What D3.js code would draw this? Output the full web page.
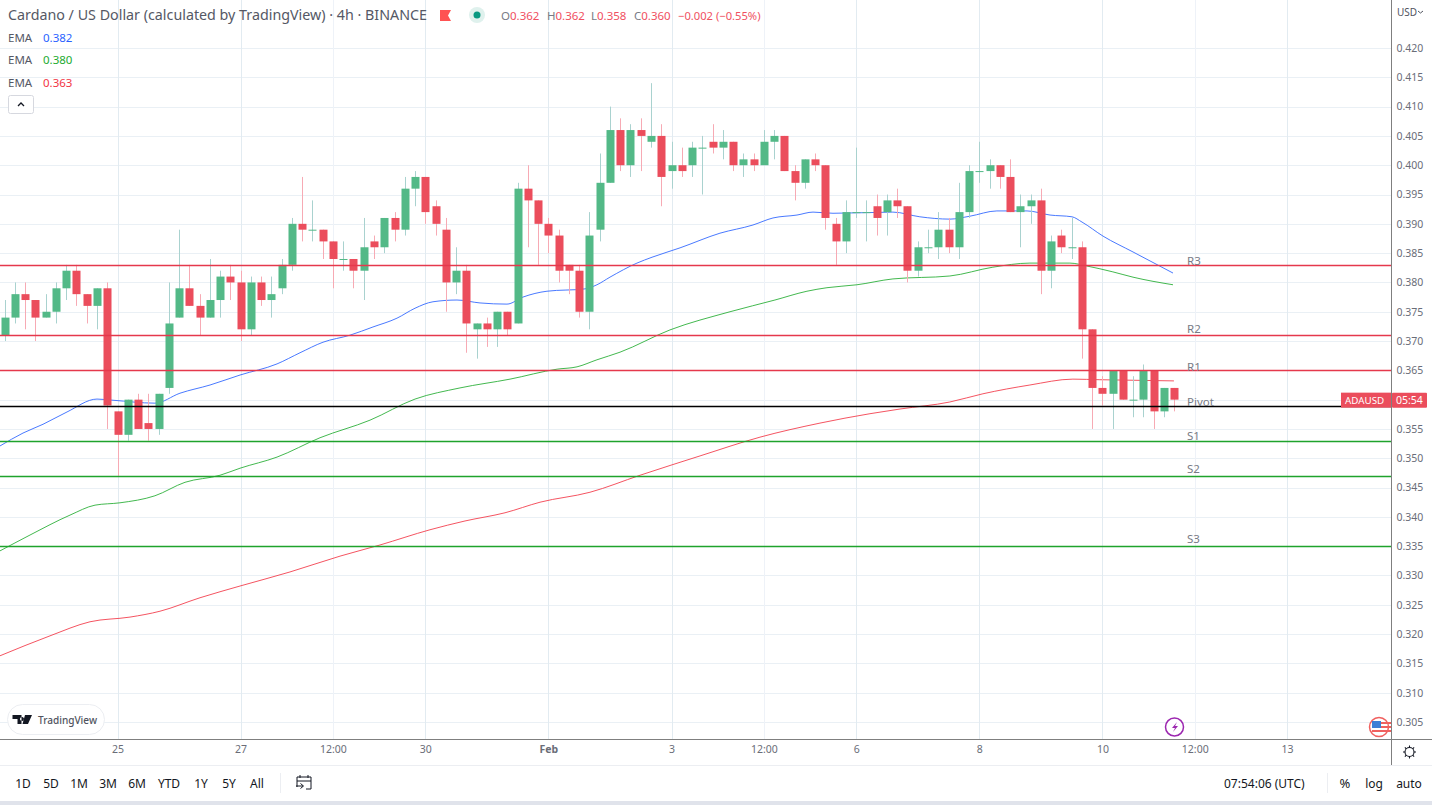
<!DOCTYPE html>
<html>
<head>
<meta charset="utf-8">
<script src="https://cdn.jsdelivr.net/npm/d3@7"></script>
<style>
  html, body { margin: 0; padding: 0; background: #fff; overflow: hidden; }
  svg { display: block; }
  text { font-family: "Noto Sans", sans-serif; }
  .tick text { font-size: 10.5px; fill: #6a6d78; }
</style>
</head>
<body>
<div id="chart"></div>
<script>
// Kerzen, 4h, index 0 = 25. Jan
const firstIndex = -11;
const opens = [
  .371,.374,.378,.377,.374,.375,.379,.382,.378,.376,.379,
  .358,.354,.360,.356,.355,.362,.374,.379,.376,.374,.377,.381,.380,.372,.380,.377,.379,.383,.390,.389,
  .389,.387,.384,.384,.382,.387,.386,.391,.389,.396,.398,.393,.389,.380,.382,.372,.373,.372,.375,.373,
  .396,.394,.390,.388,.383,.382,.375,.389,.397,.406,
  .400,.406,.404,.405,.399,.400,.400,.403,.404,.403,.404,.400,.401,.400,.404,.405,.399,.397,.401,.400,
  .390,.387,.392,.392,.393,.392,.394,.393,.382,
  .386,.386,.389,.386,.392,.399,.399,.400,.398,.392,.393,.394,.382,.388,.386,.386,.372,.362,.361,.365,.360,.360,.365,.358,.362
];
const highs = [
  .377,.380,.380,.377,.378,.380,.383,.383,.378,.379,.380,
  .358,.360,.361,.361,.361,.380,.389,.383,.378,.384,.382,.383,.382,.381,.381,.381,.384,.391,.398,.394,
  .389,.387,.387,.384,.391,.388,.391,.392,.398,.399,.398,.394,.391,.386,.383,.373,.374,.375,.375,.397,
  .400,.394,.391,.389,.383,.383,.392,.402,.410,.408,
  .407,.408,.414,.407,.404,.403,.404,.405,.407,.406,.404,.402,.402,.406,.406,.405,.400,.401,.402,.400,
  .391,.394,.403,.394,.395,.395,.396,.393,.387,
  .389,.392,.391,.397,.400,.404,.401,.400,.401,.395,.395,.396,.388,.389,.391,.387,.372,.364,.365,.365,.364,.366,.365,.362,.362
];
const lows = [
  .370,.373,.372,.370,.374,.373,.377,.376,.373,.372,.355,
  .347,.353,.355,.353,.354,.361,.374,.376,.371,.374,.374,.377,.370,.371,.376,.374,.378,.382,.387,.387,
  .384,.379,.382,.379,.377,.384,.385,.387,.388,.393,.390,.388,.375,.378,.368,.367,.369,.369,.371,.373,
  .386,.383,.385,.380,.378,.374,.372,.387,.397,.399,
  .398,.399,.403,.393,.396,.398,.398,.395,.402,.401,.399,.398,.399,.400,.401,.399,.394,.396,.399,.389,
  .383,.385,.391,.387,.388,.388,.391,.380,.381,
  .385,.384,.385,.384,.391,.397,.396,.396,.392,.386,.390,.378,.379,.385,.384,.367,.355,.359,.355,.360,.357,.357,.355,.357,.358
];
const closes = [
  .374,.378,.377,.374,.375,.379,.382,.378,.376,.379,.359,
  .354,.360,.355,.355,.361,.373,.379,.376,.374,.377,.381,.380,.372,.380,.377,.378,.383,.390,.389,.389,
  .387,.384,.384,.382,.386,.386,.391,.389,.396,.398,.392,.390,.380,.382,.373,.373,.372,.375,.372,.396,
  .394,.390,.388,.382,.382,.375,.388,.397,.406,.400,
  .406,.405,.405,.398,.400,.399,.403,.403,.403,.404,.400,.401,.400,.404,.405,.399,.397,.401,.400,.391,
  .387,.392,.392,.392,.391,.394,.393,.382,.386,
  .386,.389,.386,.392,.399,.399,.400,.398,.392,.393,.394,.382,.387,.386,.386,.372,.362,.361,.365,.360,.360,.365,.358,.362,.360
];

// EMA Linien: [kerzenindex, preis]
const emaBlue = [
  [-11.45,.3521],[-9.21,.3543],[-7.26,.3558],[-4.92,.3579],[-2,.3601],[-.44,.3599],[3.65,.3594],[6.09,.3611],[9.02,.3625],
  [11.94,.3642],[15.55,.3661],[17.79,.368],[20.03,.3698],[22.66,.371],[24.9,.3724],[27.24,.3739],[29,.3756],[30.75,.3767],
  [33.09,.377],[35.33,.3765],[37.96,.3763],[39.52,.3775],[41.86,.3785],[45.56,.3789],[46.73,.3796],[48,.3809],[50.63,.3833],
  [52.1,.3843],[54.83,.3859],[58.72,.3884],[61.94,.3898],[63.89,.391],[66.23,.3915],[67.79,.392],[69.74,.3918],[75.58,.392],
  [78.2,.3912],[81.13,.3908],[83.08,.3913],[85.71,.3922],[88.65,.3922],[90.89,.3915],[93.03,.3912],[94.01,.3903],[96.06,.3879],
  [98.98,.3852],[102.88,.3816]
];
const emaGreen = [
  [-11.45,.3342],[-8.53,.3369],[-4.63,.3403],[-2.19,.342],[.24,.3424],[3.65,.3436],[6.58,.3459],[9.99,.3471],[11.94,.3483],
  [15.55,.3502],[19.74,.3535],[24.61,.3565],[29,.3601],[33.38,.362],[38.26,.3635],[42.84,.3652],[44.79,.3656],[46.73,.3668],
  [48.98,.3681],[53.85,.3719],[59.7,.375],[64.08,.377],[67.2,.3785],[69.15,.3791],[72.07,.3796],[75.58,.3806],[81.13,.3811],
  [85.32,.3826],[88.93,.3833],[92.83,.3833],[94.49,.3828],[97.02,.3818],[98.98,.3809],[102.88,.3796]
];
const emaRed = [
  [-11.45,.3163],[-6.58,.3197],[-2.68,.3221],[1.22,.3229],[4.14,.3239],[8.04,.3262],[11.94,.3282],[16.81,.3306],[21.69,.3333],
  [25.58,.3352],[30.46,.3378],[33.87,.3393],[37.77,.3407],[41.18,.3425],[46.05,.3442],[50.93,.3471],[56.78,.3504],[62.62,.3536],
  [68.47,.356],[73.34,.3576],[76.27,.3584],[81.13,.3596],[84.35,.361],[88.93,.3625],[93.12,.3635],[95.75,.3634],[102.97,.3632]
];

// Pivot Level
const levelNames = ["R3", "R2", "R1", "Pivot", "S1", "S2", "S3"];
const levelValues = [.383, .371, .365, .359, .353, .347, .335];
const levelColors = ["#e5384c", "#e5384c", "#e5384c", "#000000", "#1fa32c", "#1fa32c", "#1fa32c"];
const levelLabelBaseline = [265, 333, 371, 405.5, 440, 473, 543];

// Achsen
const priceTicks = d3.range(0, 24).map(i => +(.305 + i * .005).toFixed(3));
const timeTickIndex = [0, 12, 21, 30, 42, 54, 63, 72, 84, 96, 105, 114];
const timeTickLabels = ["25", "27", "12:00", "30", "Feb", "3", "12:00", "6", "8", "10", "12:00", "13"];
const rangeButtons = ["1D", "5D", "1M", "3M", "6M", "YTD", "1Y", "5Y", "All"];
const rangeButtonX = [23, 51, 79, 108, 137, 169, 201, 229, 257];

const breite = 1432, hoehe = 805;
const plotRight = 1391.5, plotBottom = 739.5;

const x = d3.scaleLinear().domain([0, 114]).range([117.5, 1287.1]);
const y = d3.scaleLinear().domain([.305, .42]).range([722, 48]);

const candles = opens.map((o, k) => ({ i: firstIndex + k, o, h: highs[k], l: lows[k], c: closes[k] }));

const svg = d3.select("#chart").append("svg").attr("width", breite).attr("height", hoehe);
svg.append("rect").attr("width", breite).attr("height", hoehe).attr("fill", "#fff");

// Gitter
const gridG = svg.append("g");
gridG.selectAll(".gy").data(priceTicks).enter().append("line")
  .attr("x1", 0).attr("x2", plotRight)
  .attr("y1", d => Math.round(y(d)) + .5).attr("y2", d => Math.round(y(d)) + .5)
  .attr("stroke", "#eaf0f5");
gridG.selectAll(".gx").data(timeTickIndex).enter().append("line")
  .attr("x1", d => Math.round(x(d)) + .5).attr("x2", d => Math.round(x(d)) + .5)
  .attr("y1", 0).attr("y2", plotBottom)
  .attr("stroke", (d, k) => timeTickLabels[k] === "12:00" ? "#eef2f8" : "#e2ebf1");

// EMA
const line = d3.line().x(d => x(d[0])).y(d => y(d[1])).curve(d3.curveMonotoneX);
[[emaBlue, "#2962ff"], [emaGreen, "#22ab30"], [emaRed, "#f23645"]].forEach(([pts, col]) => {
  svg.append("path").datum(pts).attr("d", line)
    .attr("fill", "none").attr("stroke", col).attr("stroke-width", 1).attr("stroke-opacity", .85);
});

// Kerzen
const candleG = svg.append("g");
candleG.selectAll(".wick").data(candles).enter().append("line")
  .attr("x1", d => Math.round(x(d.i)) + .5).attr("x2", d => Math.round(x(d.i)) + .5)
  .attr("y1", d => y(d.h)).attr("y2", d => y(d.l))
  .attr("stroke", d => d.c >= d.o ? "#a9d2cf" : "#f7aab4");
candleG.selectAll(".body").data(candles).enter().append("rect")
  .attr("x", d => Math.round(x(d.i)) - 3.5)
  .attr("width", 8)
  .attr("y", d => Math.min(y(d.o), y(d.c)))
  .attr("height", d => Math.max(1, Math.abs(y(d.o) - y(d.c))))
  .attr("fill", d => d.c >= d.o ? "#53b987" : "#eb4d5c");

// Level Linien
const levelG = svg.append("g");
levelValues.forEach((v, k) => {
  const yy = Math.round(y(v)) + .5;
  levelG.append("line").attr("x1", 0).attr("x2", plotRight).attr("y1", yy).attr("y2", yy)
    .attr("stroke", levelColors[k]).attr("stroke-width", 1.4);
  levelG.append("text").attr("x", 1187).attr("y", levelLabelBaseline[k])
    .attr("font-size", 11.5).attr("fill", "#787b86").text(levelNames[k]);
});

// Rahmen
svg.append("rect").attr("x", plotRight).attr("width", breite - plotRight).attr("height", 765).attr("fill", "#fff");
svg.append("rect").attr("y", plotBottom).attr("width", breite).attr("height", hoehe - plotBottom).attr("fill", "#fff");

// Preisachse
const yAxis = d3.axisRight(y).tickValues(priceTicks).tickFormat(d3.format(".3f")).tickSize(0).tickPadding(5);
svg.append("g").attr("transform", `translate(${plotRight},0)`).call(yAxis)
  .call(g => g.select(".domain").remove());
svg.append("line").attr("x1", plotRight).attr("x2", plotRight).attr("y1", 0).attr("y2", 765).attr("stroke", "#7f7f7f");

// Zeitachse
const xAxis = d3.axisBottom(x).tickValues(timeTickIndex)
  .tickFormat((d, k) => timeTickLabels[k]).tickSize(0).tickPadding(6);
svg.append("g").attr("transform", `translate(0,${plotBottom})`).call(xAxis)
  .call(g => g.select(".domain").remove());
svg.selectAll(".tick text").filter(d => timeTickIndex.includes(d) && d === 42).attr("font-weight", 700);
svg.append("line").attr("x1", 0).attr("x2", breite).attr("y1", plotBottom).attr("y2", plotBottom).attr("stroke", "#7f7f7f");

// Kopfzeile
svg.append("text").attr("x", 8).attr("y", 20).attr("font-size", 14).attr("fill", "#555865")
  .attr("textLength", 419).attr("lengthAdjust", "spacingAndGlyphs")
  .text("Cardano / US Dollar (calculated by TradingView) · 4h · BINANCE");
svg.append("path").attr("d", "M440 10h11l-3 5.5 3 5.5h-11z").attr("fill", "#ff5252");
svg.append("circle").attr("cx", 477).attr("cy", 15).attr("r", 8).attr("fill", "#dff1ed");
svg.append("circle").attr("cx", 477).attr("cy", 15).attr("r", 3.5).attr("fill", "#089981");

const ohlcLabels = ["O", "H", "L", "C"];
const ohlcValues = ["0.362", "0.362", "0.358", "0.360"];
const ohlcX = [501, 547, 591, 634];
ohlcLabels.forEach((l, k) => {
  const t = svg.append("text").attr("x", ohlcX[k]).attr("y", 20).attr("font-size", 11.5);
  t.append("tspan").attr("fill", "#787b86").text(l);
  t.append("tspan").attr("fill", "#f0505f").text(ohlcValues[k]);
});
svg.append("text").attr("x", 678).attr("y", 20).attr("font-size", 11.2).attr("fill", "#f0505f").text("−0.002 (−0.55%)");

const emaValues = ["0.382", "0.380", "0.363"];
const emaColors = ["#2962ff", "#22ab30", "#f23645"];
const emaLabelY = [42, 64, 87];
emaValues.forEach((v, k) => {
  svg.append("text").attr("x", 8).attr("y", emaLabelY[k]).attr("font-size", 11.5).attr("fill", "#555865").text("EMA");
  svg.append("text").attr("x", 43).attr("y", emaLabelY[k]).attr("font-size", 11.5).attr("fill", emaColors[k]).text(v);
});
svg.append("rect").attr("x", 8.5).attr("y", 95.5).attr("width", 25).attr("height", 18).attr("rx", 2)
  .attr("fill", "#fff").attr("stroke", "#d6d8df");
svg.append("path").attr("d", "M18 106l3-3 3 3").attr("fill", "none").attr("stroke", "#131722").attr("stroke-width", 1.3);

// Logo und Symbole im Chart
svg.append("rect").attr("x", 7.5).attr("y", 704.5).attr("width", 97).attr("height", 30).attr("rx", 15)
  .attr("fill", "#fff").attr("stroke", "#eceef2");
svg.append("path").attr("d", "M12.5 715h9v9h-4v-5h-5zM25 715h7l-4 9h-5.5zM22 717a2 2 0 1 0 .01 0z").attr("fill", "#131722");
svg.append("text").attr("x", 38).attr("y", 723.5).attr("font-size", 11).attr("font-weight", 500).attr("fill", "#50535e")
  .attr("textLength", 59).attr("lengthAdjust", "spacingAndGlyphs").text("TradingView");

svg.append("circle").attr("cx", 1174.5).attr("cy", 727).attr("r", 9).attr("fill", "#fff").attr("stroke", "#9c27b0").attr("stroke-width", 1.5);
svg.append("path").attr("d", "M1177 722l-5 6h3l-2 4 5-6h-3z").attr("fill", "#9c27b0");

const flagG = svg.append("g");
flagG.append("clipPath").attr("id", "flagClip").append("rect").attr("x", 1360).attr("y", 710).attr("width", 31).attr("height", 30);
const flagInner = flagG.append("g").attr("clip-path", "url(#flagClip)");
flagInner.append("circle").attr("cx", 1379).attr("cy", 727).attr("r", 9.5).attr("fill", "#fff").attr("stroke", "#f0605f").attr("stroke-width", 1.5);
flagInner.append("rect").attr("x", 1372).attr("y", 722).attr("width", 19).attr("height", 2).attr("fill", "#f0605f");
flagInner.append("rect").attr("x", 1372).attr("y", 726).attr("width", 19).attr("height", 2).attr("fill", "#f0605f");
flagInner.append("rect").attr("x", 1372).attr("y", 730).attr("width", 19).attr("height", 2).attr("fill", "#f0605f");
flagInner.append("rect").attr("x", 1372).attr("y", 721).attr("width", 9).attr("height", 7).attr("fill", "#3d7fd6");

// Preisschild
const lastY = y(closes[closes.length - 1]);
svg.append("rect").attr("x", 1341).attr("y", lastY - 7).attr("width", 50).attr("height", 15).attr("fill", "#eb4d5c");
svg.append("rect").attr("x", 1392).attr("y", lastY - 7).attr("width", 35).attr("height", 15).attr("rx", 1).attr("fill", "#eb4d5c");
svg.append("text").attr("x", 1345).attr("y", lastY + 4.5).attr("font-size", 9.8).attr("fill", "#fff").text("ADAUSD");
svg.append("text").attr("x", 1396).attr("y", lastY + 4.5).attr("font-size", 10.5).attr("fill", "#fff").text("05:54");

// USD
svg.append("text").attr("x", 1397).attr("y", 16).attr("font-size", 10).attr("fill", "#50535e").text("USD");
svg.append("path").attr("d", "M1418 11l2.5 2 2.5-2").attr("fill", "none").attr("stroke", "#50535e");

// Zahnrad
svg.append("circle").attr("cx", 1409.5).attr("cy", 752).attr("r", 4.5).attr("fill", "#fff").attr("stroke", "#131722").attr("stroke-width", 1.1);
d3.range(0, 8).forEach(k => {
  const a = k * Math.PI / 4;
  svg.append("line")
    .attr("x1", 1409.5 + 4.5 * Math.cos(a)).attr("y1", 752 + 4.5 * Math.sin(a))
    .attr("x2", 1409.5 + 6.5 * Math.cos(a)).attr("y2", 752 + 6.5 * Math.sin(a))
    .attr("stroke", "#131722").attr("stroke-width", 1.1);
});

// Fusszeile
svg.append("line").attr("x1", 0).attr("x2", breite).attr("y1", 765.5).attr("y2", 765.5).attr("stroke", "#eceef2");
svg.append("rect").attr("y", 801).attr("width", breite).attr("height", 4).attr("fill", "#e0e3eb");
rangeButtons.forEach((b, k) => {
  svg.append("text").attr("x", rangeButtonX[k]).attr("y", 788).attr("text-anchor", "middle")
    .attr("font-size", 12).attr("fill", "#131722").text(b);
});
svg.append("line").attr("x1", 280.5).attr("x2", 280.5).attr("y1", 773).attr("y2", 793).attr("stroke", "#eceef2");
svg.append("line").attr("x1", 1327.5).attr("x2", 1327.5).attr("y1", 773).attr("y2", 793).attr("stroke", "#eceef2");
svg.append("path").attr("d", "M297 787v-10h14v12h-5M300 775v3M308 775v3M297 781h14M296 786h7M300.5 783.5l3 2.5-3 2.5")
  .attr("fill", "none").attr("stroke", "#131722");
svg.append("text").attr("x", 1224).attr("y", 788).attr("font-size", 12).attr("fill", "#131722").text("07:54:06 (UTC)");
svg.append("text").attr("x", 1345).attr("y", 788).attr("text-anchor", "middle").attr("font-size", 13).attr("fill", "#131722").text("%");
svg.append("text").attr("x", 1374).attr("y", 788).attr("text-anchor", "middle").attr("font-size", 12).attr("fill", "#131722").text("log");
svg.append("text").attr("x", 1409).attr("y", 788).attr("text-anchor", "middle").attr("font-size", 12).attr("fill", "#131722").text("auto");
</script>
</body>
</html>
